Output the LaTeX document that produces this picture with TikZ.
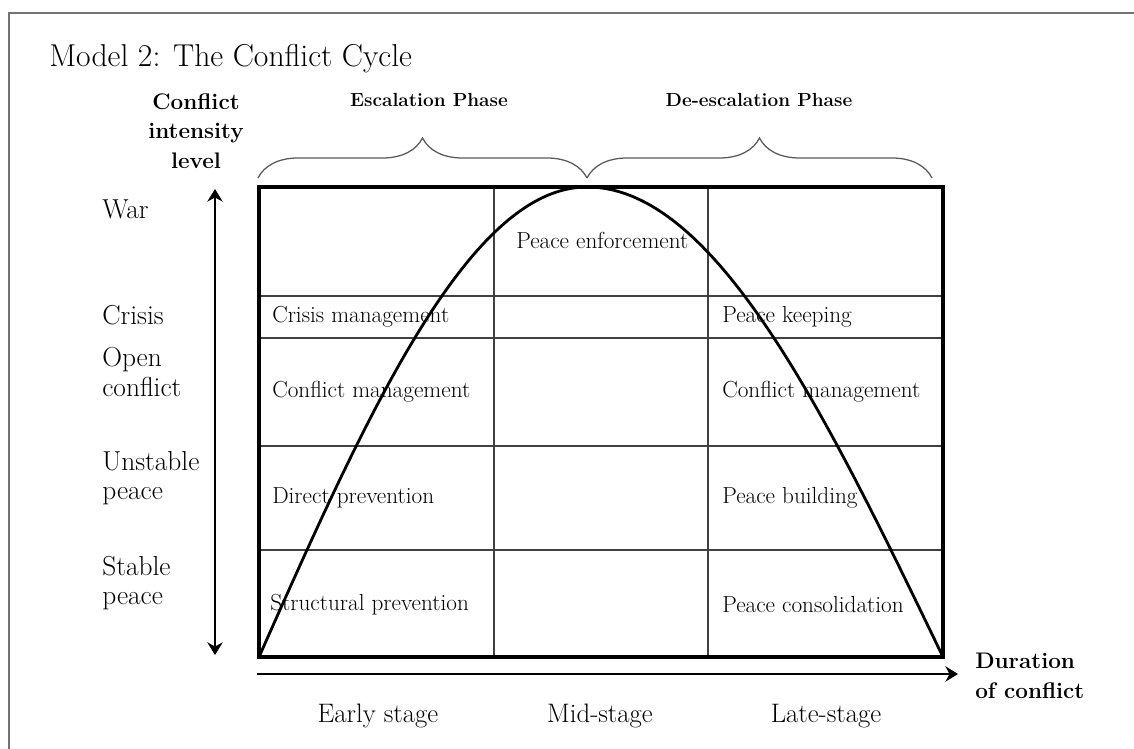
\documentclass[tikz,border=0pt]{standalone}
\usepackage{tikz}
\usetikzlibrary{decorations.pathreplacing,arrows.meta}

\begin{document}
\begin{tikzpicture}[x=0.025cm,y=-0.025cm,>={Stealth[length=9pt,width=11pt,inset=3pt]},
  cell/.style={anchor=west,inner sep=0pt,font=\fontsize{16.5}{19}\selectfont},
  level/.style={anchor=west,align=left,inner sep=0pt,font=\fontsize{19.5}{21}\selectfont},
  stage/.style={inner sep=0pt,font=\fontsize{19}{21}\selectfont},
  phase/.style={inner sep=0pt,font=\fontsize{13.5}{16}\selectfont\bfseries},
  axislabel/.style={inner sep=0pt,font=\fontsize{16}{21}\selectfont\bfseries},
  grid/.style={line width=0.8pt,black!75},
  curly/.style={black!65,line width=0.9pt,decorate,decoration={brace,amplitude=1.0cm}}]
\useasboundingbox (0,0) rectangle (1134,749);
\draw[line width=1.5pt,black!55] (9,749) -- (9,13) -- (1134,13);

\node[anchor=base west,inner sep=0pt,font=\fontsize{22.5}{26}\selectfont] (title) at (49,67) {Model 2: The Conflict Cycle};

% the box
\coordinate (ll) at (259,657);
\coordinate (ur) at (943,187);
\coordinate (lr) at (943,657);
\coordinate (peak) at (587,187);

\foreach \y in {296,338,446,550}
  \draw[grid] (259,\y) -- (943,\y);
\foreach \x in {494,708}
  \draw[grid] (\x,187) -- (\x,657);
\draw[line width=2.8pt] (ll) rectangle (ur);

% the cycle
\draw[line width=2pt] (ll) sin (peak) cos (lr);

% axes
\coordinate (vtop) at (215,189);
\coordinate (vbot) at (215,655);
\draw[<->,line width=1.4pt] (vbot) -- (vtop);
\coordinate (hleft) at (257,674);
\coordinate (hright) at (958,674);
\draw[->,line width=1.4pt] (hleft) -- (hright);

% phases
\draw[curly] (258,178) -- (587,178);
\draw[curly] (587,178) -- (932,178);
\node[phase] (esc) at (429,100) {Escalation Phase};
\node[phase] (desc) at (759,100) {De-escalation Phase};

\node[axislabel,align=center] (intensity) at (196,131) {Conflict\\intensity\\level};
\node[axislabel,align=left,anchor=west] (duration) at (975,676) {Duration\\of conflict};

% levels
\node[level] (war) at (102,209) {War};
\node[level] (crisis) at (102,315) {Crisis};
\node[level] (open) at (102,372) {Open\\conflict};
\node[level] (unstable) at (102,478) {Unstable\\peace};
\node[level] (stable) at (102,583) {Stable\\peace};

% cells
\node[cell] (enforce) at (516,240) {Peace enforcement};
\node[cell] (crisismgt) at (272,317) {Crisis management};
\node[cell] (keeping) at (722,317) {Peace keeping};
\node[cell] (conflmgtl) at (272,392) {Conflict management};
\node[cell] (conflmgtr) at (722,392) {Conflict management};
\node[cell] (direct) at (272,498) {Direct prevention};
\node[cell] (building) at (722,498) {Peace building};
\node[cell] (struct) at (270,605) {Structural prevention};
\node[cell] (consol) at (722,605) {Peace consolidation};

% stages
\node[stage] (early) at (378,716) {Early stage};
\node[stage] (mid) at (600,716) {Mid-stage};
\node[stage] (late) at (826,716) {Late-stage};

\end{tikzpicture}
\end{document}
